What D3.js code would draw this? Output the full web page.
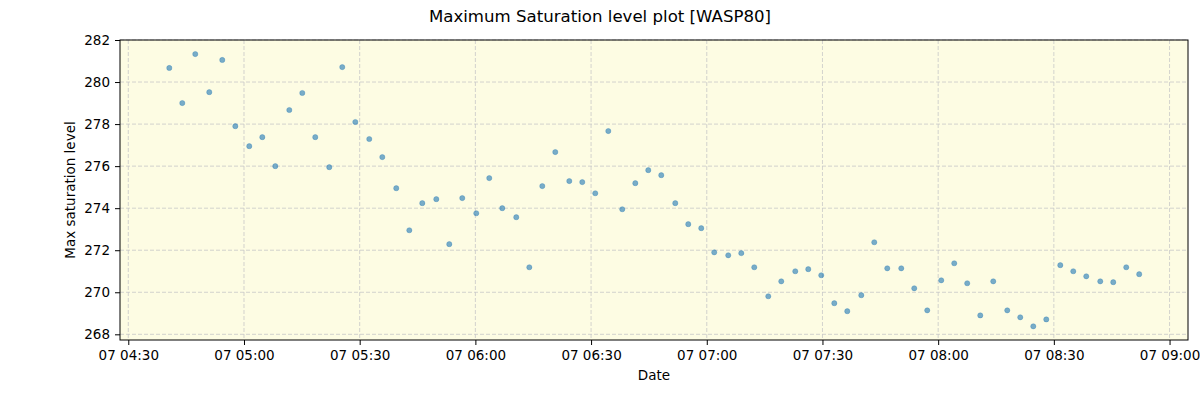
<!DOCTYPE html>
<html>
<head>
<meta charset="utf-8">
<script src="https://cdn.jsdelivr.net/npm/d3@7"></script>
<style>
  html, body { margin: 0; padding: 0; background: #ffffff; }
  svg { display: block; font-family: "DejaVu Sans", sans-serif; }
</style>
</head>
<body>
<svg id="chart" width="1200" height="400"></svg>
<script>
const chartTitle = "Maximum Saturation level plot [WASP80]";
const xLabel = "Date";
const yLabel = "Max saturation level";

const times = [
  "04:40:38","04:44:00","04:47:22","04:51:00","04:54:22","04:57:45","05:01:22","05:04:45","05:08:07","05:11:45",
  "05:15:07","05:18:29","05:22:07","05:25:29","05:28:52","05:32:29","05:35:52","05:39:29","05:42:52","05:46:14",
  "05:49:52","05:53:14","05:56:36","06:00:14","06:03:36","06:06:58","06:10:36","06:13:59","06:17:21","06:20:43",
  "06:24:21","06:27:43","06:31:05","06:34:28","06:38:05","06:41:28","06:44:50","06:48:12","06:51:50","06:55:12",
  "06:58:34","07:01:56","07:05:34","07:08:57","07:12:19","07:15:57","07:19:19","07:22:57","07:26:19","07:29:41",
  "07:33:04","07:36:26","07:40:04","07:43:26","07:46:48","07:50:26","07:53:48","07:57:10","08:00:48","08:04:10",
  "08:07:32","08:10:55","08:14:17","08:17:55","08:21:17","08:24:40","08:28:02","08:31:40","08:35:02","08:38:24",
  "08:42:02","08:45:24","08:48:46","08:52:08"
];
const values = [
  280.67, 279.0, 281.33, 279.52, 281.05, 277.9, 276.95, 277.38, 276.0, 278.67,
  279.48, 277.38, 275.95, 280.71, 278.1, 277.29, 276.43, 274.95, 272.95, 274.24,
  274.43, 272.29, 274.48, 273.76, 275.43, 274.0, 273.57, 271.19, 275.05, 276.67,
  275.29, 275.24, 274.71, 277.67, 273.95, 275.19, 275.81, 275.57, 274.24, 273.24,
  273.05, 271.9, 271.76, 271.86, 271.19, 269.81, 270.52, 271.0, 271.1, 270.81,
  269.48, 269.1, 269.86, 272.38, 271.14, 271.14, 270.19, 269.14, 270.57, 271.38,
  270.43, 268.9, 270.52, 269.14, 268.81, 268.38, 268.71, 271.29, 271.0, 270.76,
  270.52, 270.48, 271.19, 270.86
];
const xDomain = ["04:27:51", "09:04:47"];
const yDomain = [267.73, 282.0];
const yTicks = [268, 270, 272, 274, 276, 278, 280, 282];
const xTickTimes = ["04:30","05:00","05:30","06:00","06:30","07:00","07:30","08:00","08:30","09:00"];
const datePrefix = "2024-01-07T";

const parse = s => new Date(datePrefix + (s.length === 5 ? s + ":00" : s));
const data = times.map((t, i) => ({ t: parse(t), v: values[i] }));

const margin = { left: 120, right: 12, top: 40, bottom: 60 };
const W = 1200, H = 400;
const svg = d3.select("#chart");

const x = d3.scaleTime().domain(xDomain.map(parse)).range([margin.left, W - margin.right]);
const y = d3.scaleLinear().domain(yDomain).range([H - margin.bottom, margin.top]);

// background
svg.append("rect")
  .attr("x", margin.left).attr("y", margin.top)
  .attr("width", W - margin.left - margin.right)
  .attr("height", H - margin.top - margin.bottom)
  .attr("fill", "#fdfce3");

const xTicks = xTickTimes.map(parse);
const fmt = d3.timeFormat("%d %H:%M");

// grid
const grid = svg.append("g").attr("stroke", "#c8c8c8").attr("stroke-width", 0.8).attr("stroke-dasharray", "4,2").attr("fill", "none");
grid.selectAll("line.gx").data(xTicks).join("line")
  .attr("x1", d => x(d)).attr("x2", d => x(d))
  .attr("y1", margin.top).attr("y2", H - margin.bottom);
grid.selectAll("line.gy").data(yTicks).join("line")
  .attr("x1", margin.left).attr("x2", W - margin.right)
  .attr("y1", d => y(d)).attr("y2", d => y(d));

// points
svg.append("g").selectAll("circle").data(data).join("circle")
  .attr("cx", d => x(d.t)).attr("cy", d => y(d.v)).attr("r", 2.6)
  .attr("fill", "#1f77b4").attr("fill-opacity", 0.6)
  .attr("stroke", "#1f77b4").attr("stroke-opacity", 0.6).attr("stroke-width", 0.5);

// axes
const xAxis = d3.axisBottom(x).tickValues(xTicks).tickFormat(fmt).tickSize(5).tickPadding(5);
const yAxis = d3.axisLeft(y).tickValues(yTicks).tickFormat(d3.format("d")).tickSize(5).tickPadding(5);

const gx = svg.append("g").attr("transform", `translate(0,${H - margin.bottom})`).call(xAxis);
const gy = svg.append("g").attr("transform", `translate(${margin.left},0)`).call(yAxis);
[gx, gy].forEach(g => {
  g.select(".domain").remove();
  g.selectAll(".tick line").attr("stroke", "#000").attr("stroke-width", 1);
  g.selectAll(".tick text").attr("fill", "#000").attr("font-size", "13.5px").attr("font-family", "DejaVu Sans, sans-serif");
});

// frame
svg.append("rect")
  .attr("x", margin.left).attr("y", margin.top)
  .attr("width", W - margin.left - margin.right)
  .attr("height", H - margin.top - margin.bottom)
  .attr("fill", "none").attr("stroke", "#000").attr("stroke-width", 1);

// titles
svg.append("text").attr("x", 600).attr("y", 22).attr("text-anchor", "middle")
  .attr("font-size", "16.6px").attr("fill", "#000").text(chartTitle);
svg.append("text").attr("x", (margin.left + W - margin.right) / 2).attr("y", 380).attr("text-anchor", "middle")
  .attr("font-size", "13.5px").attr("fill", "#000").text(xLabel);
svg.append("text").attr("transform", `translate(75,${(margin.top + H - margin.bottom) / 2}) rotate(-90)`)
  .attr("text-anchor", "middle").attr("font-size", "13.5px").attr("fill", "#000").text(yLabel);
</script>
</body>
</html>
